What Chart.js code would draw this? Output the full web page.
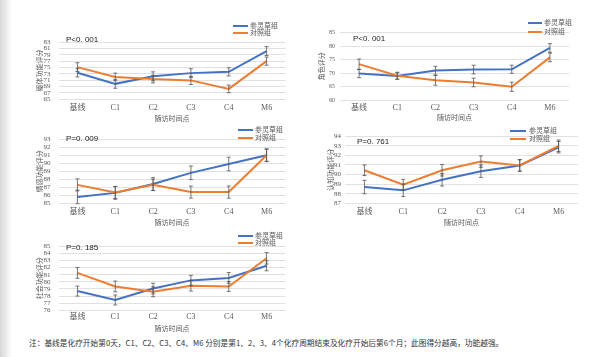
<!DOCTYPE html>
<html><head><meta charset="utf-8">
<script src="https://cdn.jsdelivr.net/npm/chart.js@4.4.0/dist/chart.umd.min.js"></script>
<style>
html,body{margin:0;padding:0;background:#fff;}
body{width:600px;height:357px;position:relative;overflow:hidden;font-family:"Liberation Serif","Noto Sans CJK SC",serif;}
#shade{position:absolute;left:0;top:0;width:12px;height:357px;background:linear-gradient(to right,#d8d8d8,#ffffff);}
canvas{position:absolute;}
.pv{position:absolute;font-family:"Liberation Sans","Noto Sans",sans-serif;font-size:8px;color:#222;line-height:1;white-space:nowrap;}
.lg{position:absolute;font-family:"Noto Sans CJK SC";font-size:7px;color:#595959;line-height:1;white-space:nowrap;}
.sw{position:absolute;height:2px;}
#note{position:absolute;left:29px;top:339px;font-family:"Noto Sans CJK SC";font-size:7.7px;color:#333;white-space:nowrap;line-height:1;}
</style></head>
<body>
<div id="shade"></div>
<canvas id="c1"></canvas><canvas id="c2"></canvas><canvas id="c3"></canvas><canvas id="c4"></canvas><canvas id="c5"></canvas>
<div id="overlay"></div>
<div id="note">注：基线是化疗开始第0天，C1、C2、C3、C4、M6 分别是第1、2、3、4个化疗周期结束及化疗开始后第6个月；此图得分越高，功能越强。</div>
<script>
// ---- data ----
const categories = ['基线','C1','C2','C3','C4','M6'];
const seriesNames = ['参灵草组','对照组'];
const xTitle = '随访时间点';

// 躯体功能
const physTitle = '躯体功能评分';
const physP = 'P<0. 001';
const physTreat = [73.3, 69.8, 72.2, 73.2, 73.6, 80.2];
const physCtrl  = [75.1, 72.0, 71.3, 70.9, 68.2, 77.0];
const physTreatErr = [1.3, 1.4, 1.4, 1.4, 1.3, 1.4];
const physCtrlErr  = [1.4, 1.2, 1.2, 1.3, 1.2, 1.3];
const physTicks = [65, 83, 2];

// 角色
const roleTitle = '角色评分';
const roleP = 'P<0. 001';
const roleTreat = [69.8, 68.9, 70.9, 71.3, 71.4, 79.3];
const roleCtrl  = [73.3, 69.0, 67.3, 66.5, 64.9, 75.8];
const roleTreatErr = [1.5, 1.2, 1.6, 1.6, 1.5, 1.6];
const roleCtrlErr  = [1.9, 1.3, 1.8, 1.6, 1.7, 1.6];
const roleTicks = [60, 85, 5];

// 情感功能
const emoTitle = '情感功能评分';
const emoP = 'P=0. 009';
const emoTreat = [85.8, 86.3, 87.4, 88.8, 89.9, 91.0];
const emoCtrl  = [87.3, 86.35, 87.3, 86.4, 86.4, 91.0];
const emoTreatErr = [0.85, 0.8, 0.8, 0.85, 0.85, 0.8];
const emoCtrlErr  = [0.75, 0.75, 0.7, 0.75, 0.75, 0.75];
const emoTicks = [85, 93, 1];

// 认知功能
const cogTitle = '认知功能评分';
const cogP = 'P=0. 761';
const cogTreat = [88.7, 88.35, 89.45, 90.35, 90.95, 92.85];
const cogCtrl  = [90.45, 88.95, 90.45, 91.35, 90.95, 93.0];
const cogTreatErr = [0.7, 0.65, 0.65, 0.65, 0.6, 0.6];
const cogCtrlErr  = [0.55, 0.55, 0.6, 0.6, 0.6, 0.6];
const cogTicks = [87, 94, 1];

// 社会功能
const socTitle = '社会功能评分';
const socP = 'P=0. 185';
const socTreat = [78.7, 77.45, 79.05, 80.2, 80.55, 82.25];
const socCtrl  = [81.25, 79.35, 78.6, 79.45, 79.35, 83.3];
const socTreatErr = [0.7, 0.7, 0.75, 0.7, 0.75, 0.7];
const socCtrlErr  = [0.75, 0.75, 0.7, 0.75, 0.7, 0.8];
const socTicks = [76, 85, 1];

// ---- drawing ----
const BLUE = '#4472C4', ORANGE = '#ED7D31';
const TXT = '#595959';

const errorBars = {
  id: 'errorBars',
  afterDatasetsDraw(chart) {
    const ctx = chart.ctx, ys = chart.scales.y;
    chart.data.datasets.forEach((ds, di) => {
      const meta = chart.getDatasetMeta(di);
      ctx.save();
      ctx.strokeStyle = '#555555';
      ctx.lineWidth = 0.8;
      meta.data.forEach((pt, i) => {
        const v = ds.data[i], e = ds.errors[i];
        const t = ys.getPixelForValue(v + e), b = ys.getPixelForValue(v - e);
        ctx.beginPath();
        ctx.moveTo(pt.x, t); ctx.lineTo(pt.x, b);
        ctx.moveTo(pt.x - 2, t); ctx.lineTo(pt.x + 2, t);
        ctx.moveTo(pt.x - 2, b); ctx.lineTo(pt.x + 2, b);
        ctx.stroke();
      });
      ctx.restore();
    });
  }
};

function makePanel(p) {
  const cv = document.getElementById(p.id);
  const cLeft = Math.round(p.yTitleX - 12);
  const cTop = Math.round(p.plotT - 6);
  const cRight = Math.round(p.plotR + 4);
  const cBottom = Math.round(p.titleY + 7);
  const W = cRight - cLeft, H = cBottom - cTop;
  cv.width = W; cv.height = H;
  cv.style.left = cLeft + 'px'; cv.style.top = cTop + 'px';
  cv.style.width = W + 'px'; cv.style.height = H + 'px';
  const tLH = 7 * 1.2, cLH = 8 * 1.2;
  new Chart(cv, {
    type: 'line',
    data: {
      labels: categories,
      datasets: [
        {label: seriesNames[0], data: p.treat, errors: p.treatErr, borderColor: BLUE, backgroundColor: BLUE,
         borderWidth: 2, pointRadius: 0, tension: 0, order: 1},
        {label: seriesNames[1], data: p.ctrl, errors: p.ctrlErr, borderColor: ORANGE, backgroundColor: ORANGE,
         borderWidth: 2, pointRadius: 0, tension: 0, order: 0}
      ]
    },
    options: {
      responsive: false, animation: false, devicePixelRatio: 1,
      layout: {padding: {left: 0, top: p.plotT - cTop, right: cRight - p.plotR, bottom: 0}},
      plugins: {legend: {display: false}, tooltip: {enabled: false}},
      scales: {
        x: {
          offset: true,
          grid: {display: false, drawTicks: false},
          border: {display: false},
          ticks: {color: TXT, font: {family: '"Liberation Serif","Noto Sans CJK SC"', size: 8},
                  padding: p.catY - p.plotB - cLH / 2, maxRotation: 0, autoSkip: false},
          title: {display: true, text: xTitle, color: TXT,
                  font: {family: '"Noto Sans CJK SC"', size: 7},
                  padding: {top: 0, bottom: cBottom - p.titleY - tLH / 2}},
          afterFit(s) { s.height = cBottom - p.plotB; }
        },
        y: {
          min: p.ticks[0], max: p.ticks[1],
          grid: {color: '#d9d9d9', lineWidth: 0.8, drawTicks: false},
          border: {display: false},
          ticks: {stepSize: p.ticks[2], autoSkip: false, color: TXT, padding: p.tickPad,
                  font: {family: '"Liberation Serif"', size: p.tickSize}},
          title: {display: true, text: p.title, color: TXT,
                  font: {family: '"Noto Sans CJK SC"', size: 7},
                  padding: {top: p.yTitleX - cLeft - tLH / 2, bottom: 0}},
          afterFit(s) { s.width = p.plotL - cLeft; }
        }
      }
    },
    plugins: [errorBars]
  });
  const ov = document.getElementById('overlay');
  const pv = document.createElement('div');
  pv.className = 'pv'; pv.textContent = p.p;
  pv.style.left = p.pX + 'px'; pv.style.top = (p.pY - 4) + 'px';
  ov.appendChild(pv);
  [[BLUE, p.lgY1, seriesNames[0]], [ORANGE, p.lgY2, seriesNames[1]]].forEach(([col, y, name]) => {
    const sw = document.createElement('div');
    sw.className = 'sw'; sw.style.background = col;
    sw.style.left = p.lgX1 + 'px'; sw.style.width = (p.lgX2 - p.lgX1) + 'px'; sw.style.top = (y - 1) + 'px';
    ov.appendChild(sw);
    const t = document.createElement('div');
    t.className = 'lg'; t.textContent = name;
    t.style.left = p.lgT + 'px'; t.style.top = (y - 4) + 'px';
    ov.appendChild(t);
  });
}

makePanel({id: 'c1', title: physTitle, p: physP, treat: physTreat, ctrl: physCtrl, treatErr: physTreatErr, ctrlErr: physCtrlErr, ticks: physTicks,
  plotL: 58.5, plotT: 36, plotR: 285.5, plotB: 99, catY: 107.7, titleY: 118, yTitleX: 39, tickPad: 8, tickSize: 7,
  pX: 66, pY: 40, lgX1: 233, lgX2: 248, lgT: 250, lgY1: 26, lgY2: 33});
makePanel({id: 'c2', title: roleTitle, p: roleP, treat: roleTreat, ctrl: roleCtrl, treatErr: roleTreatErr, ctrlErr: roleCtrlErr, ticks: roleTicks,
  plotL: 340, plotT: 30, plotR: 569, plotB: 100, catY: 107.5, titleY: 117, yTitleX: 321, tickPad: 5, tickSize: 6,
  pX: 353, pY: 39, lgX1: 528, lgX2: 542, lgT: 544, lgY1: 23, lgY2: 32});
makePanel({id: 'c3', title: emoTitle, p: emoP, treat: emoTreat, ctrl: emoCtrl, treatErr: emoTreatErr, ctrlErr: emoCtrlErr, ticks: emoTicks,
  plotL: 58.5, plotT: 133.3, plotR: 285.5, plotB: 203.3, catY: 211.7, titleY: 222, yTitleX: 39, tickPad: 8, tickSize: 7,
  pX: 66, pY: 139, lgX1: 238, lgX2: 253, lgT: 255, lgY1: 130, lgY2: 138});
makePanel({id: 'c4', title: cogTitle, p: cogP, treat: cogTreat, ctrl: cogCtrl, treatErr: cogTreatErr, ctrlErr: cogCtrlErr, ticks: cogTicks,
  plotL: 345, plotT: 133.7, plotR: 578, plotB: 203.3, catY: 211.7, titleY: 222, yTitleX: 330, tickPad: 4, tickSize: 7,
  pX: 357, pY: 142, lgX1: 510, lgX2: 526, lgT: 529, lgY1: 131, lgY2: 139});
makePanel({id: 'c5', title: socTitle, p: socP, treat: socTreat, ctrl: socCtrl, treatErr: socTreatErr, ctrlErr: socCtrlErr, ticks: socTicks,
  plotL: 58.5, plotT: 240.3, plotR: 285.5, plotB: 310.3, catY: 316.7, titleY: 328, yTitleX: 39, tickPad: 8, tickSize: 7,
  pX: 66, pY: 248, lgX1: 238, lgX2: 253, lgT: 255, lgY1: 236, lgY2: 243});
</script>
</body></html>
